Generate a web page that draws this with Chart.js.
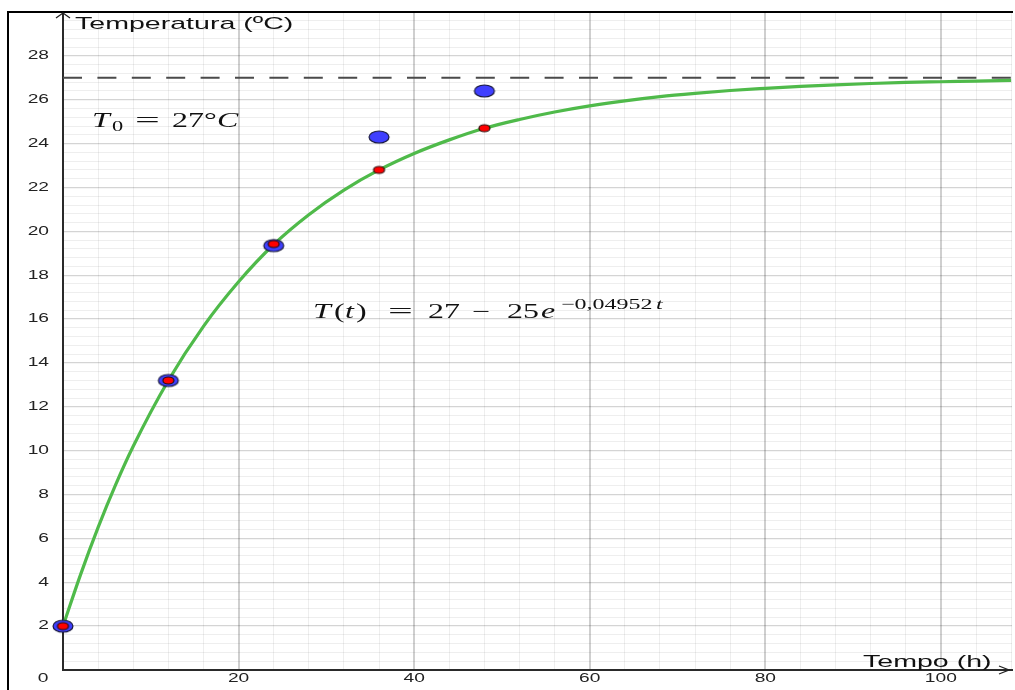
<!DOCTYPE html>
<html>
<head>
<meta charset="utf-8">
<script src="https://cdn.jsdelivr.net/npm/chart.js@4"></script>
<style>
  body { margin: 0; background: #fff; }
  canvas { display: block; }
</style>
</head>
<body>
<canvas id="myChart" width="1015" height="690"></canvas>
<script>
// curve (hours -> degrees)
var curveT = [0, 2, 4, 6, 8, 12, 16, 20, 24, 28, 32, 36, 40, 44, 48, 52, 56, 60, 64, 68, 72, 76, 80, 84, 88, 92, 96, 100, 104, 108];
var curveV = [2.0, 4.35, 6.5, 8.45, 10.2, 13.2, 15.67, 17.7, 19.4, 20.76, 21.88, 22.8, 23.55, 24.17, 24.7, 25.1, 25.44, 25.72, 25.95, 26.14, 26.29, 26.42, 26.52, 26.61, 26.68, 26.74, 26.79, 26.82, 26.85, 26.88];

// measured temperatures (blue) and model values (red)
var sampleT = [0, 12, 24, 36, 48];
var measured = [2.0, 13.2, 19.35, 24.3, 26.4];
var model = [2.0, 13.2, 19.42, 22.8, 24.7];

var ambient = 27;

var xMin = 0, xMax = 108.1;
var yMin = 0, yMax = 30;
var xGrid = [], yGrid = [];
for (var i = 0; i <= 27; i++) xGrid.push(i * 4);
for (var j = 0; j <= 75; j++) yGrid.push(Math.round(j * 4) / 10);
var xLabels = [20, 40, 60, 80, 100];
var yLabels = [2, 4, 6, 8, 10, 12, 14, 16, 18, 20, 22, 24, 26, 28];

var STRETCH = 1.6;

function ellipse(w, h, fill, stroke) {
    var c = document.createElement('canvas');
    c.width = w + 4;
    c.height = h + 4;
    var g = c.getContext('2d');
    g.beginPath();
    g.ellipse(c.width / 2, c.height / 2, w / 2, h / 2, 0, 0, Math.PI * 2);
    g.fillStyle = fill;
    g.fill();
    g.lineWidth = 1.2;
    g.strokeStyle = stroke;
    g.stroke();
    return c;
}

function pts(xs, ys) {
    return xs.map(function(x, k) { return {x: x, y: ys[k]}; });
}

function txt(ctx, s, x, y, font, align, sx) {
    ctx.save();
    ctx.translate(x, y);
    ctx.scale(sx || STRETCH, 1);
    ctx.font = font;
    ctx.textAlign = align || 'left';
    ctx.fillText(s, 0, 0);
    ctx.restore();
}

var decorations = {
    id: 'decorations',
    afterDraw: function(chart) {
        var ctx = chart.ctx;
        var xs = chart.scales.x, ys = chart.scales.y;
        var a = chart.chartArea;
        ctx.save();

        // outer frame
        ctx.strokeStyle = '#000';
        ctx.lineWidth = 2;
        ctx.beginPath();
        ctx.moveTo(8, 690);
        ctx.lineTo(8, 12);
        ctx.lineTo(1013, 12);
        ctx.stroke();

        // arrows
        var x0 = xs.getPixelForValue(0), y0 = ys.getPixelForValue(0);
        ctx.strokeStyle = '#222';
        ctx.lineWidth = 1.3;
        ctx.beginPath();
        ctx.moveTo(x0 - 7, a.top + 6);
        ctx.lineTo(x0, a.top + 1);
        ctx.lineTo(x0 + 7, a.top + 6);
        ctx.moveTo(a.right - 13, y0 - 4);
        ctx.lineTo(a.right - 3, y0);
        ctx.lineTo(a.right - 13, y0 + 4);
        ctx.stroke();

        // tick labels
        ctx.fillStyle = '#222';
        ctx.textBaseline = 'middle';
        var tf = '12px "Liberation Sans", Arial, sans-serif';
        yLabels.forEach(function(v) {
            txt(ctx, String(v), 49, ys.getPixelForValue(v), tf, 'right');
        });
        xLabels.forEach(function(v) {
            txt(ctx, String(v), xs.getPixelForValue(v), 679, tf, 'center');
        });
        txt(ctx, '0', 43, 679, tf, 'center');

        // axis titles
        ctx.fillStyle = '#111';
        var af = '17px "Liberation Sans", Arial, sans-serif';
        txt(ctx, 'Temperatura (ºC)', 75, 24, af, 'left', 1.68);
        txt(ctx, 'Tempo (h)', 863, 662, af, 'left', 1.68);

        // formulas
        ctx.textBaseline = 'alphabetic';
        var serif = '"Liberation Serif", "Times New Roman", serif';
        var it = 'italic 20px ' + serif;
        var up = '20px ' + serif;
        var sub = '14px ' + serif;
        var sup = '15px ' + serif;
        var supIt = 'italic 15px ' + serif;
        var b1 = 127;
        txt(ctx, 'T', 92, b1, it);
        txt(ctx, '0', 112, b1 + 4, sub);
        txt(ctx, '=', 135, b1, up, 'left', 2.2);
        txt(ctx, '27°', 172, b1, up);
        txt(ctx, 'C', 217, b1, it);

        var b2 = 318;
        txt(ctx, 'T', 313, b2, it);
        txt(ctx, '(', 334, b2, up);
        txt(ctx, 't', 345, b2, it);
        txt(ctx, ')', 356, b2, up);
        txt(ctx, '=', 388, b2, up, 'left', 2.2);
        txt(ctx, '27', 428, b2, up);
        txt(ctx, '−', 472, b2, up);
        txt(ctx, '25', 507, b2, up);
        txt(ctx, 'e', 541, b2, it);
        txt(ctx, '−0,04952', 561, b2 - 9, sup);
        txt(ctx, 't', 656, b2 - 9, supIt);

        ctx.restore();
    }
};

function gridScale(min, max, values, majorTest, side, majorColor, majorWidth) {
    return {
        type: 'linear',
        position: side,
        min: min,
        max: max,
        afterBuildTicks: function(scale) {
            scale.ticks = values.map(function(v) { return {value: v}; });
        },
        afterFit: function(scale) {
            if (side === 'left') scale.width = 63;
            else scale.height = 20;
        },
        ticks: { display: false, autoSkip: false },
        grid: {
            drawTicks: false,
            color: function(c) {
                return majorTest(c.tick.value) ? majorColor : 'rgba(0,0,0,0.065)';
            },
            lineWidth: function(c) {
                return majorTest(c.tick.value) ? majorWidth : 1;
            }
        },
        border: { color: '#2a2a2a', width: 2 }
    };
}

var ctx = document.getElementById('myChart').getContext('2d');
new Chart(ctx, {
    type: 'scatter',
    data: {
        datasets: [{
            type: 'scatter',
            data: pts(sampleT, model),
            pointStyle: ellipse(11, 7, '#ff0000', '#2a0a0a'),
            pointRadius: 6,
            order: 0,
            clip: false
        }, {
            type: 'scatter',
            data: pts(sampleT, measured),
            pointStyle: ellipse(20, 12, '#3f3fff', '#15153a'),
            pointRadius: 10,
            order: 1,
            clip: false
        }, {
            type: 'line',
            data: pts(curveT, curveV),
            borderColor: '#4fba4a',
            borderWidth: 3.2,
            pointRadius: 0,
            cubicInterpolationMode: 'monotone',
            order: 2
        }, {
            type: 'line',
            data: [{x: 0, y: ambient}, {x: xMax, y: ambient}],
            borderColor: '#4a4a4a',
            borderWidth: 2,
            borderDash: [19, 15.4],
            pointRadius: 0,
            order: 3
        }]
    },
    options: {
        responsive: false,
        animation: false,
        events: [],
        layout: { autoPadding: false, padding: { left: 0, top: 12, right: 3, bottom: 0 } },
        plugins: {
            legend: { display: false },
            tooltip: { enabled: false }
        },
        scales: {
            x: gridScale(xMin, xMax, xGrid, function(v) { return v > 0 && v % 20 === 0; }, 'bottom', 'rgba(0,0,0,0.19)', 2),
            y: gridScale(yMin, yMax, yGrid, function(v) { return v > 0 && Math.abs(v / 2 - Math.round(v / 2)) < 1e-6; }, 'left', 'rgba(0,0,0,0.17)', 1.3)
        }
    },
    plugins: [decorations]
});
</script>
</body>
</html>
